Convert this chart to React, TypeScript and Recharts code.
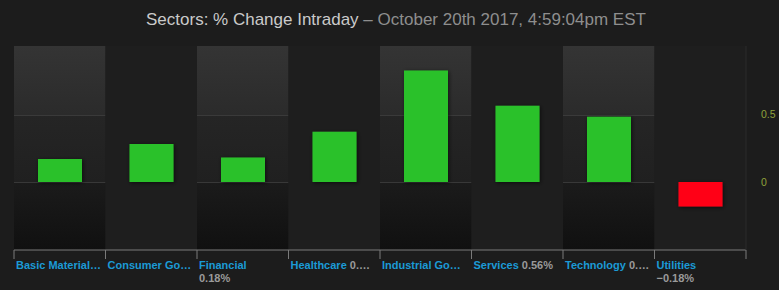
import React from 'react';
import { BarChart, Bar, XAxis, YAxis, ReferenceArea, Cell, Rectangle } from 'recharts';

const categories = ['Basic Materials', 'Consumer Goods', 'Financial', 'Healthcare', 'Industrial Goods', 'Services', 'Technology', 'Utilities'];
const changes = [0.17, 0.28, 0.18, 0.37, 0.82, 0.56, 0.48, -0.18];
const tickNames = ['Basic Material…', 'Consumer Go…', 'Financial', 'Healthcare', 'Industrial Go…', 'Services', 'Technology', 'Utilities'];
const tickValues = ['', '', '0.18%', '0.…', '', '0.56%', '0.…', '−0.18%'];
const valueOnNewLine = [false, false, true, false, false, false, false, true];
const yTicks = [0, 0.5];

const data = categories.map((sector, i) => ({ sector, change: changes[i] }));

const W = 779;
const H = 290;
const PLOT_LEFT = 14;
const PLOT_RIGHT = 746;
const BAND = (PLOT_RIGHT - PLOT_LEFT) / categories.length;

const XTick = (props: any) => {
  const { x, y, payload } = props;
  const i = payload.index;
  const left = x - BAND / 2;
  const tx = left + 2;
  return (
    <g>
      <line x1={left} y1={y} x2={left} y2={y + 9} stroke="#7a7a7a" />
      {i === categories.length - 1 && (
        <line x1={left + BAND} y1={y} x2={left + BAND} y2={y + 9} stroke="#7a7a7a" />
      )}
      <text x={tx} y={y + 19} fontSize={11} fontWeight="bold" fontFamily="'Liberation Sans', Arial, sans-serif">
        <tspan fill="#1b9ad6">{tickNames[i]}</tspan>
        {!valueOnNewLine[i] && tickValues[i] && <tspan fill="#9a9a9a"> {tickValues[i]}</tspan>}
      </text>
      {valueOnNewLine[i] && (
        <text x={tx} y={y + 32} fontSize={11} fontWeight="bold" fill="#9a9a9a" fontFamily="'Liberation Sans', Arial, sans-serif">
          {tickValues[i]}
        </text>
      )}
    </g>
  );
};

export default function App() {
  return (
    <div style={{ position: 'relative', width: W, height: H, background: '#1c1c1c', fontFamily: "'Liberation Sans', Arial, sans-serif" }}>
      <style>{'body{margin:0;background:#1c1c1c}'}</style>
      <div style={{ position: 'absolute', left: 146, top: 10, fontSize: 17, whiteSpace: 'nowrap' }}>
        <span style={{ color: '#cacaca' }}>Sectors: % Change Intraday</span>
        <span style={{ color: '#8e8e8e' }}> – October 20th 2017, 4:59:04pm EST</span>
      </div>
      <BarChart width={W} height={H} data={data} margin={{ top: 46, right: 0, bottom: 0, left: PLOT_LEFT }}>
        <defs>
          <linearGradient id="bandFill" x1="0" y1="0" x2="0" y2="1">
            <stop offset="0%" stopColor="#343434" />
            <stop offset="33.6%" stopColor="#2b2b2b" />
            <stop offset="33.6%" stopColor="#3a3a3a" />
            <stop offset="34.1%" stopColor="#3a3a3a" />
            <stop offset="34.1%" stopColor="#252525" />
            <stop offset="66.7%" stopColor="#202020" />
            <stop offset="66.7%" stopColor="#383838" />
            <stop offset="67.2%" stopColor="#383838" />
            <stop offset="67.2%" stopColor="#1b1b1b" />
            <stop offset="100%" stopColor="#101010" />
          </linearGradient>
          <filter id="barShadow" x="-20%" y="-20%" width="140%" height="150%">
            <feDropShadow dx="1" dy="1" stdDeviation="2" floodColor="#000" floodOpacity="0.6" />
          </filter>
        </defs>
        <XAxis
          dataKey="sector"
          height={40}
          interval={0}
          tickLine={false}
          tickSize={0}
          tickMargin={0}
          axisLine={{ stroke: '#7a7a7a' }}
          tick={<XTick />}
        />
        <YAxis
          orientation="right"
          width={W - PLOT_RIGHT}
          domain={[-0.5, 1]}
          ticks={yTicks}
          tickLine={false}
          tickSize={6}
          tickMargin={9}
          axisLine={{ stroke: '#2a2a2a' }}
          tick={{ fill: '#8fa23a', fontSize: 10.5, textAnchor: 'start' }}
        />
        {categories.map((c, i) =>
          i % 2 === 0 ? (
            <ReferenceArea key={c} x1={c} x2={c} y1={-0.5} y2={1} fill="url(#bandFill)" fillOpacity={1} stroke="none" />
          ) : (
            <ReferenceArea key={c} x1={c} x2={c} y1={-0.5} y2={1} fill="#1e1e1e" fillOpacity={1} stroke="none" />
          )
        )}
        <Bar
          dataKey="change"
          barSize={44}
          isAnimationActive={false}
          shape={(p: any) => <Rectangle {...p} filter="url(#barShadow)" />}
        >
          {data.map((d) => (
            <Cell key={d.sector} fill={d.change >= 0 ? '#2cc12c' : '#ff0019'} />
          ))}
        </Bar>
      </BarChart>
    </div>
  );
}
